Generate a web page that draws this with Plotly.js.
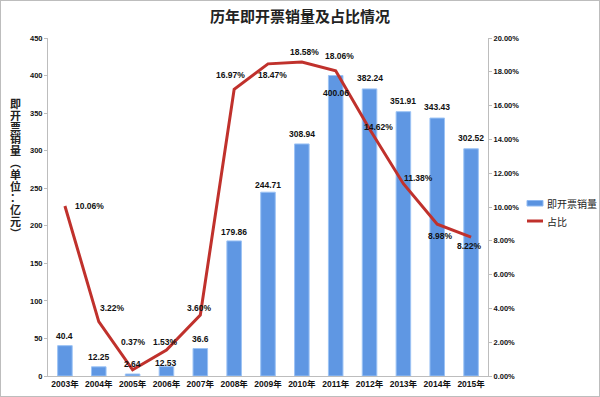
<!DOCTYPE html>
<html><head><meta charset="utf-8">
<script src="https://cdn.plot.ly/plotly-3.0.1.min.js"></script>
<style>
html,body{margin:0;padding:0;background:#fff;}
#wrap{position:relative;width:600px;height:397px;}
#chart{width:600px;height:397px;}
#frame{position:absolute;left:0;top:0;width:598px;height:395px;border:1px solid #bdbdbd;pointer-events:none;}
</style></head>
<body><div id="wrap"><div id="chart"></div><div id="frame"></div></div>
<script>
var years = ["2003年","2004年","2005年","2006年","2007年","2008年","2009年","2010年","2011年","2012年","2013年","2014年","2015年"];
var sales = [40.4, 12.25, 2.64, 12.53, 36.6, 179.86, 244.71, 308.94, 400.06, 382.24, 351.91, 343.43, 302.52];
var share = [10.06, 3.22, 0.37, 1.53, 3.60, 16.97, 18.47, 18.58, 18.06, 14.62, 11.38, 8.98, 8.22];
var salesLabels = ["40.4","12.25","2.64","12.53","36.6","179.86","244.71","308.94","400.06","382.24","351.91","343.43","302.52"];
var shareLabels = ["10.06%","3.22%","0.37%","1.53%","3.60%","16.97%","18.47%","18.58%","18.06%","14.62%","11.38%","8.98%","8.22%"];
var seriesNames = ["即开票销量","占比"];
var yTitleChars = ["即","开","票","销","量","︵","单","位","：","亿","元","︶"];

// layout helpers (pixels)
var L = 48, R = 488, T = 38, B = 376;
function px(x){ return (x - L) / (R - L); }
function py(y){ return (B - y) / (B - T); }

// label offsets (pixels) – layout only
var barShift = [10,10,10,4,10,9,7,10,-17,11,11,11,11];
var lineDX = [25,14,1,-1,-1,-4,4,3,4,9,15,3,-2];
var lineDY = [0,14,28,8,7,14,-11,10,15,2,6,-12,-9];

var lblFont = {family:"Liberation Sans, Arial, sans-serif", size:8.5, color:"#111", weight:"bold"};
var ann = [];
for (var i=0;i<years.length;i++){
  ann.push({x:years[i], y:sales[i], xref:"x", yref:"y", text:salesLabels[i], showarrow:false,
    yshift:barShift[i], font:lblFont});
  ann.push({x:years[i], y:share[i], xref:"x", yref:"y2", text:shareLabels[i], showarrow:false,
    xshift:lineDX[i], yshift:lineDY[i], font:lblFont});
}
for (var k=0;k<yTitleChars.length;k++){
  ann.push({xref:"paper", yref:"paper", x:px(15), y:py(103 + k*11.8), xanchor:"center", yanchor:"middle",
    text:yTitleChars[k], showarrow:false, borderpad:0,
    font:{family:"Noto Sans CJK SC", size:11, color:"#222", weight:"bold"}});
}
// custom legend
var legFont = {family:"Noto Sans CJK SC", size:10, color:"#222"};
ann.push({xref:"paper", yref:"paper", x:px(545), y:py(203), xanchor:"left", yanchor:"middle", text:seriesNames[0], showarrow:false, font:legFont});
ann.push({xref:"paper", yref:"paper", x:px(545), y:py(221), xanchor:"left", yanchor:"middle", text:seriesNames[1], showarrow:false, font:legFont});
var shapes = [
  {type:"rect", xref:"paper", yref:"paper", x0:px(527), x1:px(543), y0:py(206), y1:py(200.5),
   fillcolor:"#5a93e0", line:{color:"#8fb9f2", width:1}},
  {type:"line", xref:"paper", yref:"paper", x0:px(527), x1:px(543), y0:py(221), y1:py(221),
   line:{color:"#c0312c", width:3}}
];

var tickFont = {family:"Liberation Sans, Arial, sans-serif", size:7.5, color:"#111", weight:"bold"};

var data = [
  {type:"bar", name:seriesNames[0], x:years, y:sales,
   marker:{color:"#5f97e3", line:{color:"#9cc3f5", width:1}}, hoverinfo:"x+y"},
  {type:"scatter", mode:"lines", name:seriesNames[1], x:years, y:share, yaxis:"y2",
   line:{color:"#c0312c", width:3}}
];
var layout = {
  width:600, height:397,
  margin:{l:L, r:600-R, t:T, b:397-B},
  paper_bgcolor:"#fff", plot_bgcolor:"rgba(0,0,0,0)",
  title:{text:"历年即开票销量及占比情况", x:0.5, xref:"container", y:0.957, yref:"container", yanchor:"middle",
    font:{family:"Noto Sans CJK SC", size:15, color:"#222", weight:"bold"}},
  bargap:0.57,
  showlegend:false,
  xaxis:{type:"category", showline:true, linecolor:"#bdbdbd", linewidth:1, ticks:"", showgrid:false,
    tickfont:{family:"Liberation Sans, Noto Sans CJK SC, sans-serif", size:8.5, color:"#111", weight:"bold"}, zeroline:false},
  yaxis:{range:[0,450], dtick:50, showline:true, linecolor:"#bdbdbd", linewidth:1, ticks:"outside", ticklen:3,
    tickcolor:"#bdbdbd", showgrid:false, zeroline:false, tickfont:tickFont},
  yaxis2:{range:[0,20], dtick:2, overlaying:"y", side:"right", showline:true, linecolor:"#bdbdbd", linewidth:1,
    ticks:"outside", ticklen:3, tickcolor:"#bdbdbd", showgrid:false, zeroline:false,
    tickformat:".2f", ticksuffix:"%", tickfont:tickFont},
  annotations:ann,
  shapes:shapes
};
Plotly.newPlot("chart", data, layout, {displayModeBar:false, staticPlot:true});
</script></body></html>
